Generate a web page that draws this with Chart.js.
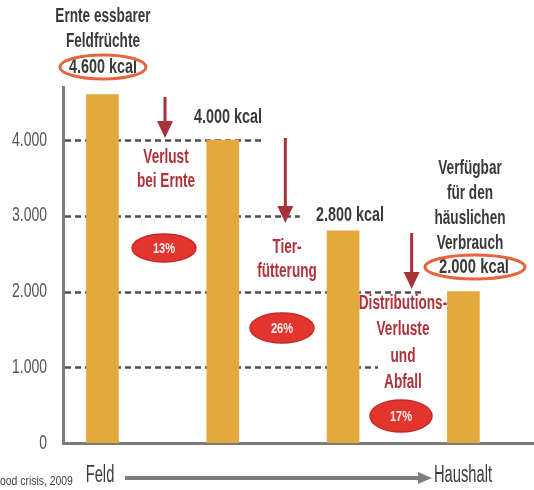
<!DOCTYPE html>
<html>
<head>
<meta charset="utf-8">
<script src="https://cdn.jsdelivr.net/npm/chart.js@4.4.0/dist/chart.umd.min.js"></script>
<style>
  html, body { margin: 0; padding: 0; background: #fff; }
  #wrap { width: 534px; height: 490px; position: relative; }
</style>
</head>
<body>
<div id="wrap"><canvas id="chart"></canvas></div>
<script>
// data
const stages = ['Ernte essbarer Feldfrüchte', 'nach Ernte', 'nach Tierfütterung', 'Verfügbar für den häuslichen Verbrauch'];
const kcal = [4600, 4000, 2800, 2000];
const lossPct = [13, 26, 17];
const lossLabels = [['Verlust', 'bei Ernte'], ['Tier-', 'fütterung'], ['Distributions-', 'Verluste', 'und', 'Abfall']];
const yTicks = [0, 1000, 2000, 3000, 4000];
const startLabel = ['Ernte essbarer', 'Feldfrüchte'];
const endLabel = ['Verfügbar', 'für den', 'häuslichen', 'Verbrauch'];
const axisEnds = ['Feld', 'Haushalt'];
const source = 'ood crisis, 2009';

// no narrow face installed, so text is squeezed horizontally
const FONT = "'Liberation Sans', Arial, sans-serif";
const DARK = '#3a3a3a';
const RED = '#b0323a';

function fmt(v) {
    return String(v).replace(/\B(?=(\d{3})+(?!\d))/g, '.');
}

// where each dashed level line stops (x-scale units)
const gridEnds = { 1000: 2.29, 2000: 2.68, 3000: 1.64, 4000: 1.33 };

function narrowText(ctx, t, x, y, sx) {
    ctx.save();
    ctx.translate(x, y);
    ctx.scale(sx || 0.68, 1);
    ctx.fillText(t, 0, 0);
    ctx.restore();
}

function textLines(ctx, lines, x, y, step) {
    lines.forEach((t, i) => narrowText(ctx, t, x, y + i * step));
}

function ellipse(ctx, x, y, rx, ry) {
    ctx.beginPath();
    ctx.ellipse(x, y, rx, ry, 0, 0, Math.PI * 2);
}

function arrowDown(ctx, x, y0, y1) {
    ctx.beginPath();
    ctx.moveTo(x, y0);
    ctx.lineTo(x, y1 - 14);
    ctx.stroke();
    ctx.beginPath();
    ctx.moveTo(x - 8, y1 - 17);
    ctx.lineTo(x + 8, y1 - 17);
    ctx.lineTo(x, y1);
    ctx.closePath();
    ctx.fill();
}

const levelLines = {
    id: 'levelLines',
    beforeDatasetsDraw(chart) {
        const { ctx, chartArea, scales: { x, y } } = chart;
        ctx.save();
        ctx.strokeStyle = '#505050';
        ctx.lineWidth = 2.5;
        ctx.setLineDash([6, 4]);
        yTicks.forEach(v => {
            if (!gridEnds[v]) return;
            const py = Math.round(y.getPixelForValue(v)) + 0.5;
            ctx.beginPath();
            ctx.moveTo(chartArea.left + 2, py);
            ctx.lineTo(x.getPixelForValue(gridEnds[v]), py);
            ctx.stroke();
        });
        // y tick labels, squeezed like the rest of the text
        ctx.fillStyle = '#555';
        ctx.font = '20px ' + FONT;
        ctx.textAlign = 'right';
        ctx.textBaseline = 'middle';
        y.ticks.forEach(t => {
            narrowText(ctx, fmt(t.value), 47, y.getPixelForValue(t.value), 0.7);
        });
        ctx.restore();
    }
};

const notes = {
    id: 'notes',
    afterDatasetsDraw(chart) {
        const { ctx, scales: { x, y } } = chart;
        ctx.save();
        ctx.textAlign = 'center';
        ctx.textBaseline = 'middle';

        // headings and kcal values
        ctx.fillStyle = DARK;
        ctx.font = 'bold 20px ' + FONT;
        textLines(ctx, startLabel, 103, 16, 25);
        narrowText(ctx, fmt(kcal[0]) + ' kcal', 103, 67, 0.72);
        narrowText(ctx, fmt(kcal[1]) + ' kcal', 228, 117, 0.72);
        narrowText(ctx, fmt(kcal[2]) + ' kcal', 350, 215, 0.72);
        textLines(ctx, endLabel, 470, 168, 25);
        narrowText(ctx, fmt(kcal[3]) + ' kcal', 474, 267, 0.74);

        ctx.strokeStyle = '#e8643f';
        ctx.lineWidth = 3;
        ellipse(ctx, 103, 67, 43, 12);
        ctx.stroke();
        ellipse(ctx, 475, 267, 50, 12);
        ctx.stroke();

        // loss arrows between levels
        const arrowX = [0.52, 1.52, 2.57];
        const arrowY = [[97, 138], [138, 223], [233, 289]];
        ctx.strokeStyle = '#a8323a';
        ctx.fillStyle = '#a8323a';
        ctx.lineWidth = 3;
        arrowX.forEach((ax, i) => {
            arrowDown(ctx, x.getPixelForValue(ax), arrowY[i][0], arrowY[i][1]);
        });

        // loss labels
        ctx.fillStyle = RED;
        ctx.font = 'bold 20px ' + FONT;
        textLines(ctx, lossLabels[0], 166, 157, 24);
        textLines(ctx, lossLabels[1], 287, 247, 24);
        textLines(ctx, lossLabels[2], 403, 303, 26.5);

        // percentage pills
        const pills = [[164, 248, 32, 14], [282, 328, 32, 15], [401, 416, 31, 16]];
        pills.forEach((p, i) => {
            ellipse(ctx, p[0], p[1], p[2], p[3]);
            ctx.fillStyle = '#e3352d';
            ctx.fill();
            ctx.strokeStyle = '#c42a25';
            ctx.lineWidth = 1.5;
            ctx.stroke();
            ctx.fillStyle = '#fdeeee';
            ctx.font = 'bold 15px ' + FONT;
            narrowText(ctx, lossPct[i] + '%', p[0], p[1] + 1, 0.74);
        });

        // bottom flow arrow
        ctx.fillStyle = DARK;
        ctx.font = '23px ' + FONT;
        narrowText(ctx, axisEnds[0], 100, 476, 0.64);
        narrowText(ctx, axisEnds[1], 463, 476, 0.64);
        ctx.strokeStyle = '#7d7d7d';
        ctx.fillStyle = '#7d7d7d';
        ctx.lineWidth = 4;
        ctx.beginPath();
        ctx.moveTo(125, 478);
        ctx.lineTo(420, 478);
        ctx.stroke();
        ctx.beginPath();
        ctx.moveTo(418, 472);
        ctx.lineTo(432, 478);
        ctx.lineTo(418, 484);
        ctx.closePath();
        ctx.fill();

        ctx.fillStyle = '#444';
        ctx.font = '13px ' + FONT;
        ctx.textAlign = 'left';
        narrowText(ctx, source, 0, 481, 0.8);
        ctx.restore();
    }
};

new Chart(document.getElementById('chart'), {
    type: 'bar',
    data: {
        datasets: [{
            label: 'kcal',
            data: kcal.map((v, i) => ({ x: i, y: v, stage: stages[i] })),
            backgroundColor: '#e4a93c',
            barThickness: 32
        }]
    },
    options: {
        responsive: true,
        maintainAspectRatio: false,
        animation: false,
        layout: { padding: { left: 0, right: 0, top: 87, bottom: 47 } },
        plugins: {
            legend: { display: false },
            tooltip: { enabled: false }
        },
        scales: {
            x: {
                type: 'linear',
                offset: false,
                min: -0.328,
                max: 3.587,
                grid: { display: false, drawTicks: false, offset: false },
                ticks: { display: false },
                border: { display: true, color: '#7b7b7b', width: 3 }
            },
            y: {
                min: 0,
                max: 4700,
                afterBuildTicks: scale => { scale.ticks = yTicks.map(v => ({ value: v })); },
                afterFit: scale => { scale.width = 63; },
                grid: { display: false, drawTicks: false },
                border: { display: true, color: '#7b7b7b', width: 3 },
                ticks: { display: false }
            }
        }
    },
    plugins: [levelLines, notes]
});
</script>
</body>
</html>
